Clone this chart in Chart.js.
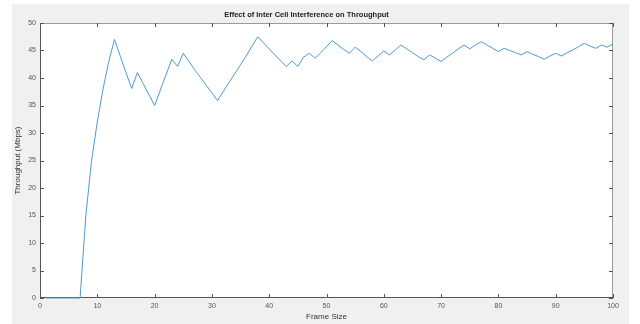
<!DOCTYPE html>
<html>
<head>
<meta charset="utf-8">
<script src="https://cdn.jsdelivr.net/npm/chart.js@4/dist/chart.umd.min.js"></script>
<style>
  html, body { margin: 0; padding: 0; background: #fff; }
  #wrap { width: 640px; height: 324px; position: relative; }
</style>
</head>
<body>
<div id="wrap"><canvas id="tput" width="640" height="324"></canvas></div>
<script>
// data
var frameSize = [];
for (var i = 1; i <= 100; i++) frameSize.push(i);

var throughput = [
  0, 0, 0, 0, 0, 0, 0, 15, 25, 32,
  38, 43, 47, 44, 41, 38.1, 41, 39, 37, 35,
  37.8, 40.6, 43.4, 42.1, 44.5, 43, 41.5, 40.1, 38.7, 37.3,
  35.9, 37.6, 39.2, 40.8, 42.4, 44, 45.8, 47.5, 46.4, 45.3,
  44.2, 43.1, 42.1, 43.1, 42.1, 43.8, 44.5, 43.6, 44.6, 45.7,
  46.8, 46, 45.2, 44.5, 45.6, 44.8, 43.9, 43.1, 44, 44.9,
  44.2, 45.1, 46, 45.3, 44.6, 43.9, 43.3, 44.2, 43.6, 43,
  43.8, 44.5, 45.3, 46, 45.3, 46, 46.6, 46, 45.4, 44.8,
  45.4, 45, 44.6, 44.2, 44.8, 44.3, 43.9, 43.4, 44, 44.5,
  44, 44.6, 45.1, 45.7, 46.3, 45.8, 45.4, 46, 45.6, 46.2
];

var xTicks = [0, 10, 20, 30, 40, 50, 60, 70, 80, 90, 100];
var yTicks = [0, 5, 10, 15, 20, 25, 30, 35, 40, 45, 50];

var pts = frameSize.map(function(f, i) { return { x: f, y: throughput[i] }; });

// grey figure background + white axes, box and inward ticks (under the line)
var figureBg = {
  id: 'figureBg',
  beforeDraw: function(chart) {
    var ctx = chart.ctx, a = chart.chartArea;
    ctx.save();
    ctx.fillStyle = '#ffffff';
    ctx.fillRect(0, 0, chart.width, chart.height);
    ctx.fillStyle = '#f0f0f0';
    ctx.fillRect(12, 4, 617, 320);
    ctx.fillStyle = '#ffffff';
    ctx.fillRect(a.left, a.top, a.right - a.left, a.bottom - a.top);
    ctx.restore();
  },
  beforeDatasetsDraw: function(chart) {
    var ctx = chart.ctx, a = chart.chartArea;
    var xs = chart.scales.x, ys = chart.scales.y;
    ctx.save();
    ctx.lineWidth = 1;
    // top + right edges
    ctx.strokeStyle = '#9a9a9a';
    ctx.beginPath();
    ctx.moveTo(a.left, a.top + 0.5); ctx.lineTo(a.right, a.top + 0.5);
    ctx.moveTo(a.right - 0.5, a.top); ctx.lineTo(a.right - 0.5, a.bottom);
    ctx.stroke();
    // ticks
    ctx.strokeStyle = '#555555';
    ctx.beginPath();
    xTicks.forEach(function(t) {
      var px = Math.round(xs.getPixelForValue(t)) + 0.5;
      ctx.moveTo(px, a.bottom); ctx.lineTo(px, a.bottom - 4);
      ctx.moveTo(px, a.top); ctx.lineTo(px, a.top + 4);
    });
    yTicks.forEach(function(t) {
      var py = Math.round(ys.getPixelForValue(t)) + 0.5;
      ctx.moveTo(a.left, py); ctx.lineTo(a.left + 4, py);
      ctx.moveTo(a.right, py); ctx.lineTo(a.right - 4, py);
    });
    ctx.stroke();
    // left + bottom axes
    ctx.beginPath();
    ctx.moveTo(a.left + 0.5, a.top); ctx.lineTo(a.left + 0.5, a.bottom);
    ctx.moveTo(a.left, a.bottom - 0.5); ctx.lineTo(a.right, a.bottom - 0.5);
    ctx.stroke();
    ctx.restore();
  }
};

new Chart(document.getElementById('tput'), {
  type: 'line',
  data: {
    datasets: [{
      data: pts,
      borderColor: '#4f9bc9',
      borderWidth: 1,
      pointRadius: 0,
      tension: 0,
      fill: false,
      clip: 2
    }]
  },
  options: {
    responsive: false,
    animation: false,
    devicePixelRatio: 1,
    layout: { padding: { left: 0, right: 27, top: 0, bottom: 0 } },
    plugins: {
      legend: { display: false },
      tooltip: { enabled: false },
      title: {
        display: true,
        text: 'Effect of Inter Cell Interference on Throughput',
        color: '#222222',
        font: { family: 'Liberation Sans, Arial, sans-serif', size: 7.5, weight: 'bold', lineHeight: 1.2 },
        padding: { top: 10, bottom: 4 }
      }
    },
    scales: {
      x: {
        type: 'linear',
        min: 0, max: 100,
        afterFit: function(s) { s.height = 26; },
        afterBuildTicks: function(s) { s.ticks = xTicks.map(function(v) { return { value: v }; }); },
        grid: { display: false, drawTicks: false },
        border: { display: false },
        ticks: {
          padding: 4,
          maxRotation: 0,
          color: '#555555',
          font: { family: 'Liberation Sans, Arial, sans-serif', size: 7 }
        },
        title: {
          display: true,
          text: 'Frame Size',
          color: '#333333',
          font: { family: 'Liberation Sans, Arial, sans-serif', size: 8 },
          padding: { top: 0, bottom: 2 }
        }
      },
      y: {
        min: 0, max: 50,
        afterFit: function(s) { s.width = 40; },
        afterBuildTicks: function(s) { s.ticks = yTicks.map(function(v) { return { value: v }; }); },
        grid: { display: false, drawTicks: false },
        border: { display: false },
        ticks: {
          padding: 4,
          color: '#555555',
          font: { family: 'Liberation Sans, Arial, sans-serif', size: 7 }
        },
        title: {
          display: true,
          text: 'Throughput (Mbps)',
          color: '#333333',
          font: { family: 'Liberation Sans, Arial, sans-serif', size: 8 },
          padding: { top: 13, bottom: 0 }
        }
      }
    }
  },
  plugins: [figureBg]
});
</script>
</body>
</html>
